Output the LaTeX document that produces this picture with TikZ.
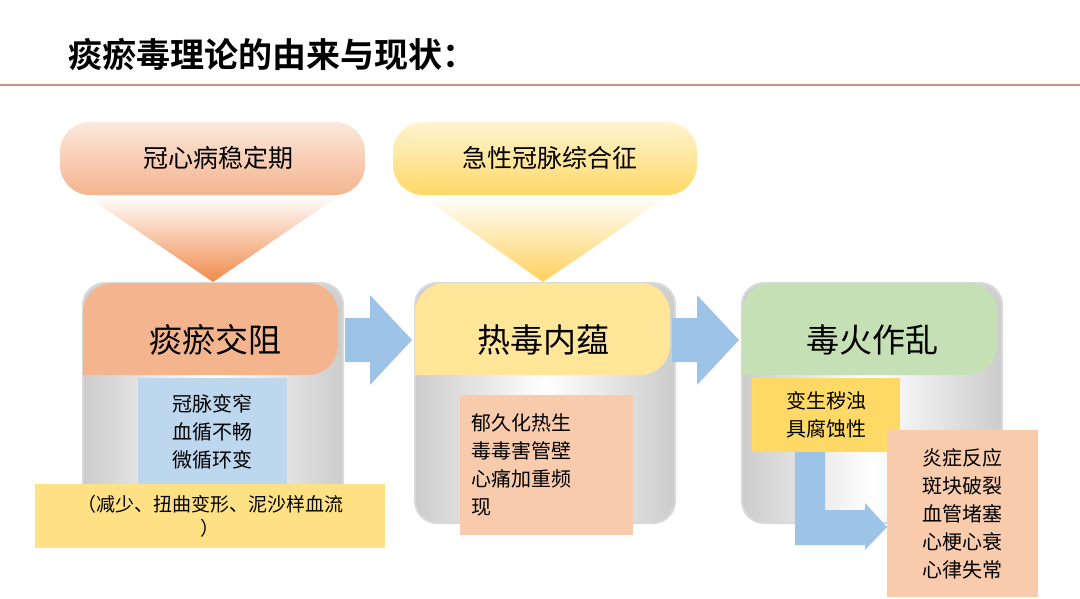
\documentclass[tikz,border=0pt]{standalone}
\usepackage{fontspec}
\setmainfont{Noto Sans CJK SC}
\newfontfamily\cjkbold{Noto Sans CJK SC Bold}
\usetikzlibrary{positioning}
\definecolor{peach}{HTML}{F4B48E}
\definecolor{peachdk}{HTML}{F08A4B}
\definecolor{peachlt}{HTML}{F8CBAD}
\definecolor{yel}{HTML}{FFD966}
\definecolor{yellt}{HTML}{FFE699}
\definecolor{grn}{HTML}{C5E0B4}
\definecolor{sky}{HTML}{9DC3E6}
\definecolor{skylt}{HTML}{BDD7EE}
\definecolor{redline}{HTML}{E08A8A}
\tikzset{
  panel/.style={rounded corners=22pt, left color=gray!40, right color=gray!40, middle color=white, draw=gray!30, line width=2pt},
  txtbox/.style={inner sep=6pt, align=left, font=\fontsize{20}{28}\selectfont},
  head/.style={font=\fontsize{33}{36}\selectfont}
}
\begin{document}
\begin{tikzpicture}[x=1pt, y=-1pt]
  \useasboundingbox (0,0) rectangle (1080,598);
  % title
  \node[anchor=west, font=\cjkbold\fontsize{34}{38}\selectfont] (title) at (65,55) {痰瘀毒理论的由来与现状：};
  \draw[redline, line width=1.2pt] (0,85) -- (1080,85);

  % callouts
  \shade[top color=white, bottom color=peachdk] (85,195) -- (340,195) -- (213,282) -- cycle;
  \shade[top color=white, bottom color=yel!90!orange] (420,195) -- (670,195) -- (543,282) -- cycle;
  \shade[rounded corners=30pt, top color=peach!30, bottom color=peach] (60,122) rectangle (365,195);
  \shade[rounded corners=30pt, top color=yel!30, bottom color=yel] (393,122) rectangle (697,195);
  \node[font=\fontsize{25}{28}\selectfont] (stable) at (218,158) {冠心病稳定期};
  \node[font=\fontsize{25}{28}\selectfont] (acs) at (550,158) {急性冠脉综合征};

  % panels
  \foreach \x/\c in {83/peach, 415/yellt, 742/grn} {
    \shade[panel] (\x,283) rectangle ++(260,240);
    \fill[\c, rounded corners=30pt] (\x,375) -- (\x,283) -- ++(255,0) -- ++(0,92) [sharp corners] -- cycle;
  }
  \node[head] (tanyu) at (215,340) {痰瘀交阻};
  \node[head] (redu) at (543,340) {热毒内蕴};
  \node[head] (duhuo) at (872,340) {毒火作乱};

  % arrows between panels
  \foreach \x in {345,672} {
    \fill[sky] (\x,318) -- ++(25,0) -- ++(0,-23) -- ++(42,45) -- ++(-42,45) -- ++(0,-23) -- ++(-25,0) -- cycle;
  }

  % text boxes
  \node[fill=skylt, minimum width=149pt, minimum height=107pt, anchor=north west, txtbox, align=center] (blue) at (138,378) {冠脉变窄\\血循不畅\\微循环变};
  \node[fill=yel!80, minimum width=350pt, minimum height=64pt, anchor=north west, font=\fontsize{19}{24}\selectfont, align=center] (flow) at (35,484) {（减少、扭曲变形、泥沙样血流\\）};
  \node[fill=peachlt, minimum width=173pt, minimum height=140pt, anchor=north west, txtbox, text width=150pt] (heat) at (460,395) {郁久化热生\\毒毒害管壁\\心痛加重频\\现};
  \node[fill=yel, minimum width=148pt, minimum height=74pt, anchor=north west, txtbox] (turbid) at (752,378) {变生秽浊\\具腐蚀性};
  \fill[sky] (795,452) -- (825,452) -- (825,510) -- (865,510) -- (865,503) -- (887,527) -- (865,550) -- (865,545) -- (795,545) -- cycle;
  \node[fill=peachlt, minimum width=151pt, minimum height=167pt, anchor=north west, txtbox, align=center] (result) at (887,430) {炎症反应\\斑块破裂\\血管堵塞\\心梗心衰\\心律失常};
\end{tikzpicture}
\end{document}
